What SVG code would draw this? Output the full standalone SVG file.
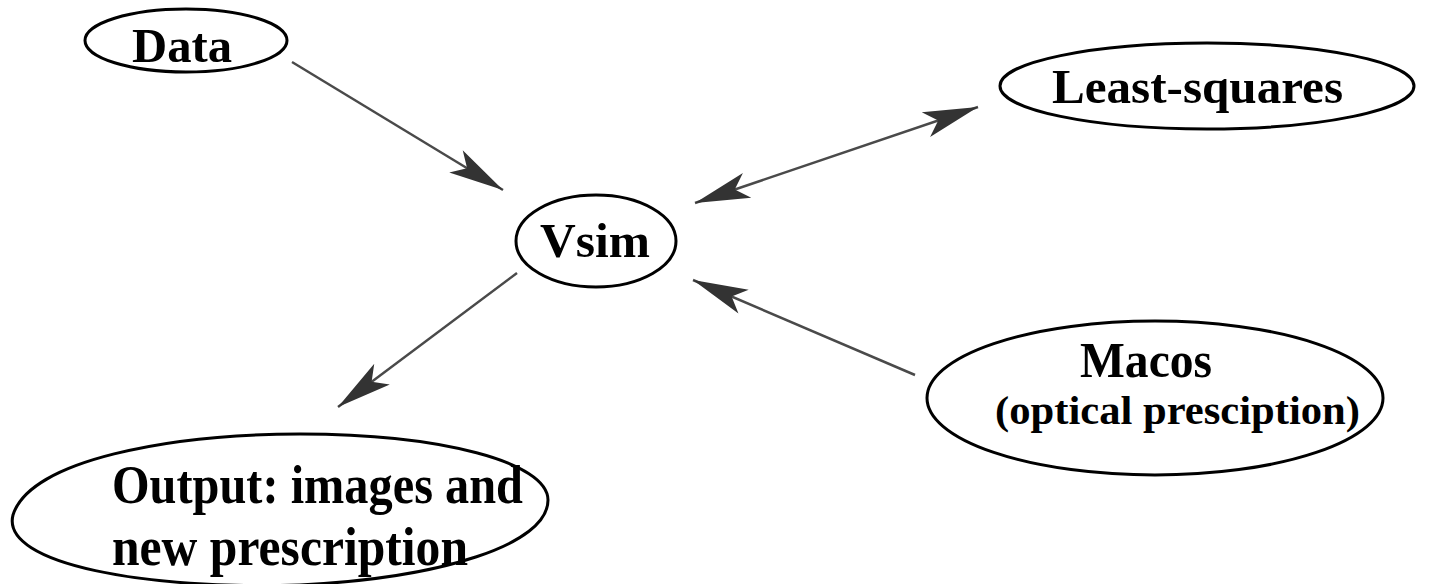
<svg xmlns="http://www.w3.org/2000/svg" width="1450" height="584" viewBox="0 0 1450 584">
<style>
.node { fill: none; stroke: #000; stroke-width: 3; }
.lbl { font-family: "Liberation Serif", "Times New Roman", serif; font-weight: bold; fill: #000; }
.conn { stroke: #4a4a4a; stroke-width: 2.5; fill: none; }
</style>
<defs>
<marker id="ah" markerUnits="userSpaceOnUse" markerWidth="70" markerHeight="34" viewBox="-60 -17 70 34" refX="0" refY="0" orient="auto-start-reverse">
<path d="M0,0 L-55,-13 L-42,0 L-55,13 Z" fill="#333"/>
</marker>
</defs>
<rect width="1450" height="584" fill="#fff"/>
<g id="connectors">
<line class="conn" x1="292" y1="62" x2="503" y2="190" marker-end="url(#ah)"/>
<line class="conn" x1="695" y1="203" x2="978" y2="107" marker-start="url(#ah)" marker-end="url(#ah)"/>
<line class="conn" x1="517" y1="273" x2="338" y2="407" marker-end="url(#ah)"/>
<line class="conn" x1="915" y1="375" x2="693" y2="280" marker-end="url(#ah)"/>
</g>
<g id="data">
<ellipse class="node" cx="186" cy="40.5" rx="101" ry="31.5"/>
<text class="lbl" x="132" y="62" font-size="48" textLength="100" lengthAdjust="spacingAndGlyphs">Data</text>
</g>
<g id="vsim">
<ellipse class="node" cx="596" cy="241" rx="80" ry="46"/>
<text class="lbl" x="540" y="257" font-size="49" textLength="110" lengthAdjust="spacingAndGlyphs">Vsim</text>
</g>
<g id="least-squares">
<ellipse class="node" cx="1207" cy="86" rx="207" ry="43"/>
<text class="lbl" x="1052" y="103" font-size="49" textLength="291" lengthAdjust="spacingAndGlyphs">Least-squares</text>
</g>
<g id="macos">
<ellipse class="node" cx="1155" cy="398" rx="228" ry="77"/>
<text class="lbl" transform="translate(1080,377) scale(1,1.05)" font-size="48" textLength="132" lengthAdjust="spacingAndGlyphs">Macos</text>
<text class="lbl" x="995" y="424" font-size="40" textLength="365" lengthAdjust="spacingAndGlyphs">(optical presciption)</text>
</g>
<g id="output">
<path class="node" d="M13,515 C30,460 170,434 300,434 C440,434 548,462 548,500 C548,545 440,578 300,585 C150,590 0,565 13,515 Z"/>
<text class="lbl" transform="translate(112,503) scale(1,1.1)" font-size="49" textLength="411" lengthAdjust="spacingAndGlyphs">Output: images and</text>
<text class="lbl" transform="translate(112,565) scale(1,1.1)" font-size="49" textLength="356" lengthAdjust="spacingAndGlyphs">new prescription</text>
</g>
</svg>
